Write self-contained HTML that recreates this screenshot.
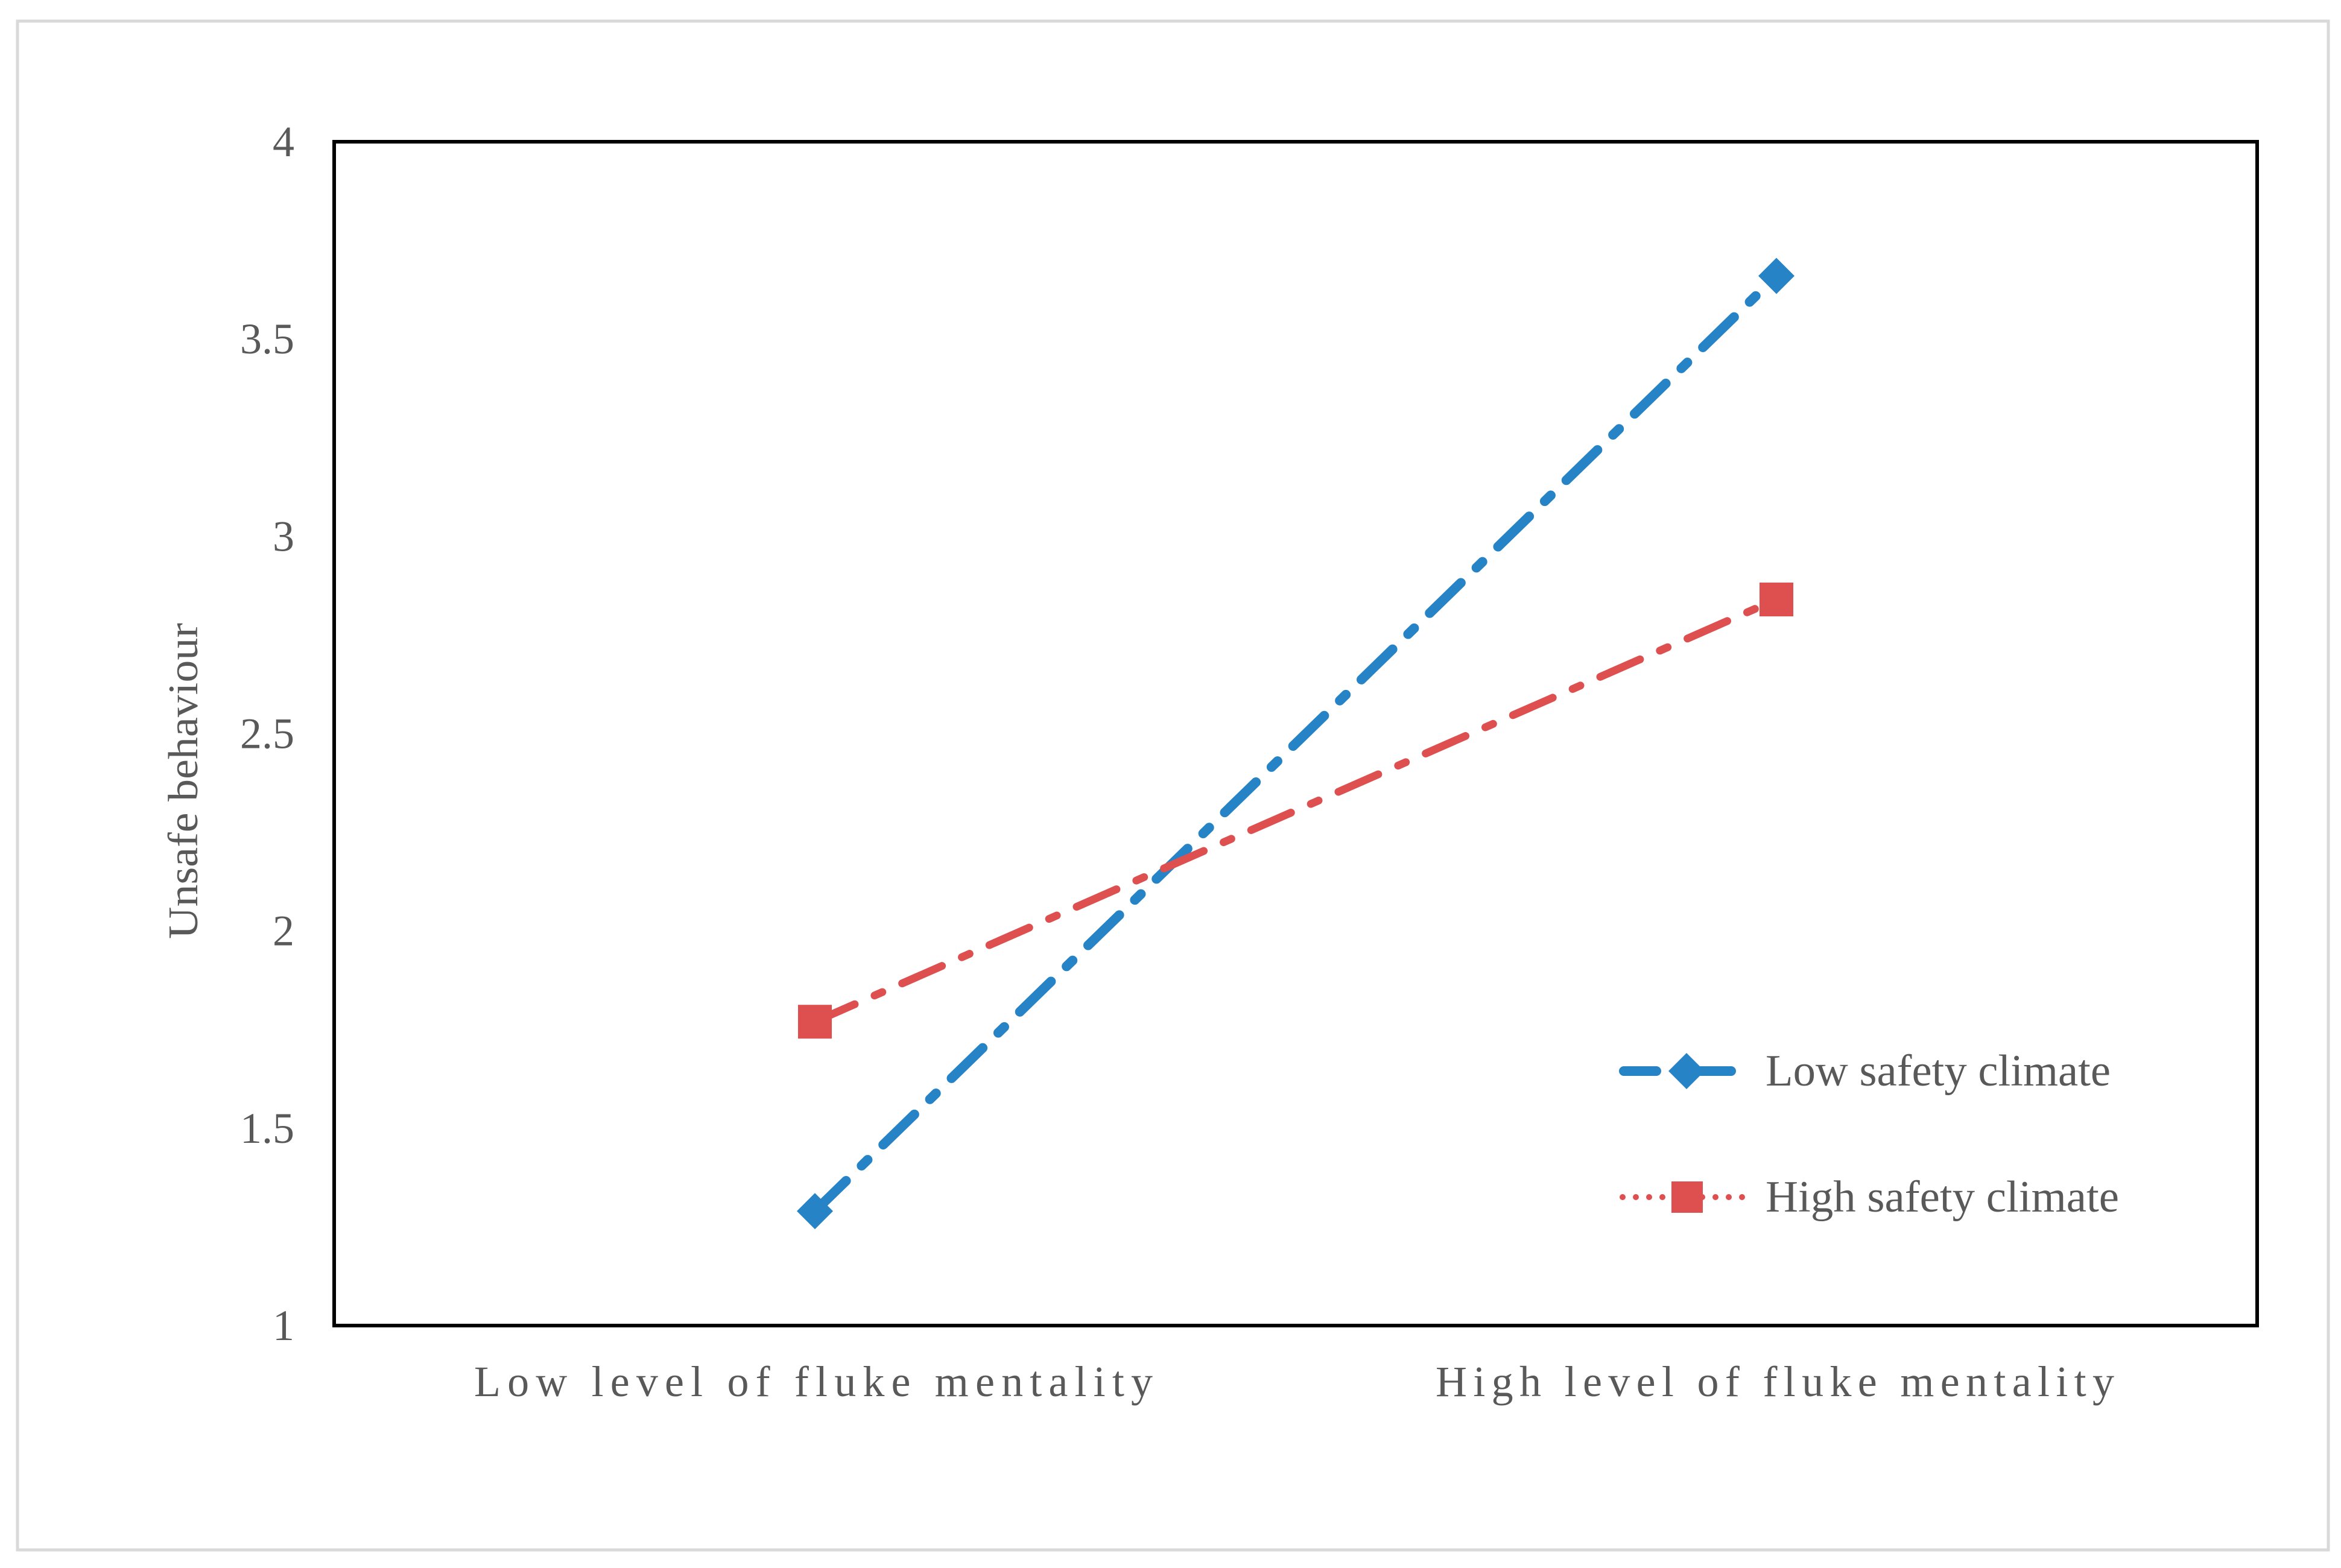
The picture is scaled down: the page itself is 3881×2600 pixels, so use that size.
<!DOCTYPE html>
<html><head><meta charset="utf-8"><style>
html,body{margin:0;padding:0;background:#fff;}
svg{display:block;}
text{font-family:"Liberation Serif",serif;fill:#595959;}
</style></head><body>
<svg id="chart" width="3881" height="2600" viewBox="0 0 3881 2600" xmlns="http://www.w3.org/2000/svg">
<rect x="29" y="35" width="3831" height="2535" fill="#fff" stroke="#d9d9d9" stroke-width="5"/>
<g id="yticks"></g>
<g id="xlabels"></g>
<text x="0" y="0" transform="translate(327,1295) rotate(-90)" text-anchor="middle" font-size="70" textLength="524" lengthAdjust="spacingAndGlyphs">Unsafe behaviour</text>
<g id="series"></g>
<rect x="554" y="235" width="3188" height="1963" fill="none" stroke="#000" stroke-width="6"/>
<g>
  <g>
    <line x1="2692" y1="1776" x2="2876" y2="1776" stroke="#2683C6" stroke-width="16" stroke-linecap="round" stroke-dasharray="54 44 80"/>
    <polygon points="2796,1746 2826,1776 2796,1806 2766,1776" fill="#2683C6"/>
    <text x="2927" y="1800" font-size="74" textLength="572" lengthAdjust="spacingAndGlyphs">Low safety climate</text>
  </g>
  <g>
    <line x1="2690" y1="1985" x2="2900" y2="1985" stroke="#DE5050" stroke-width="10" stroke-linecap="round" stroke-dasharray="0 22"/>
    <rect x="2771" y="1959" width="52" height="52" fill="#DE5050"/>
    <text x="2927" y="2009" font-size="74" textLength="586" lengthAdjust="spacingAndGlyphs">High safety climate</text>
  </g>
</g>
</svg>
<script>
const categories = ["Low level of fluke mentality", "High level of fluke mentality"];
const lowSafetyValues = [1.29, 3.66];
const highSafetyValues = [1.77, 2.84];
const yTicks = [1, 1.5, 2, 2.5, 3, 3.5, 4];
const yTickLabels = ["1", "1.5", "2", "2.5", "3", "3.5", "4"];

const NS = "http://www.w3.org/2000/svg";
const PL = 554, PR = 3742, PT = 235, PB = 2198, YMIN = 1, YMAX = 4;
function xPos(i) { return PL + (PR - PL) * (i + 0.5) / categories.length; }
function yPos(v) { return PB - (v - YMIN) / (YMAX - YMIN) * (PB - PT); }
function mk(tag, attrs) { const e = document.createElementNS(NS, tag); for (const k in attrs) e.setAttribute(k, attrs[k]); return e; }

const yg = document.getElementById('yticks');
yTicks.forEach((v, i) => {
  const t = mk('text', { x: 488, y: yPos(v) + 24, 'text-anchor': 'end', 'font-size': 72 });
  
  
  t.textContent = yTickLabels[i];
  yg.appendChild(t);
});
const xg = document.getElementById('xlabels');
categories.forEach((c, i) => {
  const t = mk('text', { x: xPos(i) - 565, y: 2315, 'font-size': 72, textLength: 1125, lengthAdjust: 'spacing' });
  
  
  t.textContent = c;
  xg.appendChild(t);
});

const sg = document.getElementById('series');
function drawSeries(vals, color, width, name, marker) {
  const pts = vals.map((v, i) => xPos(i) + ',' + yPos(v)).join(' ');
  const pl = mk('polyline', { points: pts, fill: 'none', stroke: color, 'stroke-width': width, 'stroke-linecap': 'round', 'stroke-dasharray': '72 36 14 36' });
  
  
  sg.appendChild(pl);
  vals.forEach((v, i) => {
    const x = xPos(i), y = yPos(v);
    let m;
    if (marker === 'diamond') {
      m = mk('polygon', { points: `${x},${y-30} ${x+30},${y} ${x},${y+30} ${x-30},${y}`, fill: color });
    } else {
      m = mk('rect', { x: x - 28, y: y - 28, width: 56, height: 56, fill: color });
    }
    
    
    sg.appendChild(m);
  });
}
drawSeries(lowSafetyValues, '#2683C6', 16, 'low-safety-climate', 'diamond');
drawSeries(highSafetyValues, '#DE5050', 13, 'high-safety-climate', 'square');
</script>
</body></html>
